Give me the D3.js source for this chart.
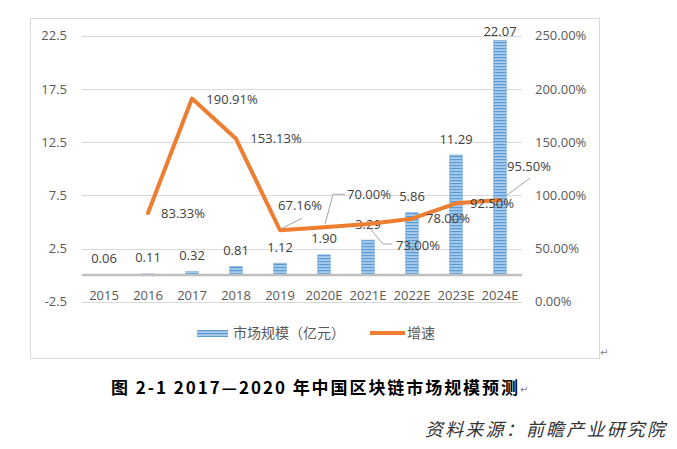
<!DOCTYPE html>
<html><head><meta charset="utf-8">
<script src="https://cdn.jsdelivr.net/npm/d3@7"></script>
<style>
html,body{margin:0;padding:0;background:#fff;}
svg{display:block;}
</style></head>
<body>
<script>
// ---- data ----
const categories = ["2015","2016","2017","2018","2019","2020E","2021E","2022E","2023E","2024E"];
const marketSize = [0.06, 0.11, 0.32, 0.81, 1.12, 1.90, 3.29, 5.86, 11.29, 22.07];
const growthRate = [null, 0.8333, 1.9091, 1.5313, 0.6716, 0.70, 0.73, 0.78, 0.925, 0.955];
const leftTicks = [-2.5, 2.5, 7.5, 12.5, 17.5, 22.5];
const rightTicks = [0, 0.5, 1.0, 1.5, 2.0, 2.5];
const legendLabels = ["市场规模（亿元）", "增速"];
const titleText = "图 2-1  2017—2020 年中国区块链市场规模预测";
const sourceText = "资料来源：前瞻产业研究院";

// label placement for growth labels (offsets from point, px)
const growthLabelOffsets = [null,[35,0],[40,1],[40,0],[20,-25],[45,-33],[50,21],[36,0],[36,0],[29,-34]];
const growthLeaders = {
  4: [[2,-2],[22,-12]],
  5: [[1,-3],[9,-33],[21,-33]],
  6: [[-1,1],[15,20],[24,20]],
  9: [[7,-5],[30,-22]]
};

const W = 677, H = 449;
const svg = d3.select("body").append("svg").attr("width", W).attr("height", H);

const defs = svg.append("defs");
const pat = defs.append("pattern").attr("id","stripes").attr("patternUnits","userSpaceOnUse")
  .attr("width", 6).attr("height", 3);
pat.append("rect").attr("width",6).attr("height",3).attr("fill","#a9cbec");
pat.append("rect").attr("width",6).attr("height",1.2).attr("fill","#5b9bd5");

// chart frame
svg.append("rect").attr("x",30.5).attr("y",18.5).attr("width",569).attr("height",340)
  .attr("fill","none").attr("stroke","#d9d9d9").attr("stroke-width",1);

const x = d3.scaleBand().domain(categories).range([82, 522]);
const yL = d3.scaleLinear().domain([-2.5, 22.5]).range([301.7, 35.7]);
const yR = d3.scaleLinear().domain([0, 2.5]).range([301.7, 35.7]);

const font = "'Open Sans', 'Noto Sans CJK SC', sans-serif";

// gridlines
svg.append("g").selectAll("line").data(leftTicks).join("line")
  .attr("x1", 82).attr("x2", 522)
  .attr("y1", d => Math.round(yL(d)) + 0.5).attr("y2", d => Math.round(yL(d)) + 0.5)
  .attr("stroke", "#d9d9d9").attr("stroke-width", 1);

// left axis
const gL = svg.append("g").attr("transform","translate(82,0)")
  .call(d3.axisLeft(yL).tickValues(leftTicks).tickSize(0).tickPadding(15).tickFormat(d => d.toFixed(1)));
gL.select(".domain").remove();
gL.selectAll("text").attr("fill","#595959").style("font-family",font).style("font-size","13px");

// right axis
const gR = svg.append("g").attr("transform","translate(522,0)")
  .call(d3.axisRight(yR).tickValues(rightTicks).tickSize(0).tickPadding(13).tickFormat(d => (d*100).toFixed(2) + "%"));
gR.select(".domain").remove();
gR.selectAll("text").attr("fill","#595959").style("font-family",font).style("font-size","13px");

// bars
const bw = 12.5;
svg.append("g").selectAll("rect").data(marketSize).join("rect")
  .attr("x", (d,i) => x(categories[i]) + x.bandwidth()/2 - bw/2)
  .attr("width", bw)
  .attr("y", d => yL(d))
  .attr("height", d => yL(0) - yL(d))
  .attr("fill", "url(#stripes)")
  .attr("stroke", "#6fa6da").attr("stroke-width", 0.6);

// zero line
svg.append("line").attr("x1",82).attr("x2",522).attr("y1",yL(0)).attr("y2",yL(0))
  .attr("stroke","#bfbfbf").attr("stroke-width",2.5);

// x axis
const gX = svg.append("g").attr("transform",`translate(0,${yL(0)})`)
  .call(d3.axisBottom(x).tickSize(0).tickPadding(20));
gX.select(".domain").remove();
gX.selectAll("text").attr("y", 20).attr("dy","0.35em").attr("fill","#595959")
  .style("font-family",font).style("font-size","13px");

// bar labels
svg.append("g").selectAll("text").data(marketSize).join("text")
  .attr("x", (d,i) => x(categories[i]) + x.bandwidth()/2)
  .attr("y", d => Math.max(yL(d) - 16, 31))
  .attr("dy","0.35em").attr("text-anchor","middle")
  .attr("fill","#404040").style("font-family",font).style("font-size","13px")
  .text(d => d.toFixed(2));

// growth line
const pts = growthRate.map((v,i) => ({v, i})).filter(d => d.v !== null);
const line = d3.line().x(d => x(categories[d.i]) + x.bandwidth()/2).y(d => yR(d.v)).curve(d3.curveLinear);
svg.append("path").datum(pts).attr("d", line).attr("fill","none")
  .attr("stroke","#ed7d31").attr("stroke-width",4).attr("stroke-linejoin","round").attr("stroke-linecap","round");

// leader lines
Object.entries(growthLeaders).forEach(([i, segs]) => {
  const px = x(categories[i]) + x.bandwidth()/2, py = yR(growthRate[i]);
  svg.append("polyline").attr("points", segs.map(s => [px + s[0], py + s[1]].join(",")).join(" "))
    .attr("fill","none").attr("stroke","#a6a6a6").attr("stroke-width",1);
});

// growth labels
svg.append("g").selectAll("text").data(pts).join("text")
  .attr("x", d => x(categories[d.i]) + x.bandwidth()/2 + growthLabelOffsets[d.i][0])
  .attr("y", d => yR(d.v) + growthLabelOffsets[d.i][1])
  .attr("dy","0.35em").attr("text-anchor","middle")
  .attr("fill","#404040").style("font-family",font).style("font-size","13px")
  .text(d => (d.v*100).toFixed(2) + "%");

// legend
const lg = svg.append("g");
lg.append("rect").attr("x",197).attr("y",330).attr("width",31).attr("height",7).attr("fill","url(#stripes)");
lg.append("text").attr("x",233).attr("y",333.5).attr("dy","0.35em").attr("fill","#595959")
  .style("font-family","'Noto Sans CJK SC', sans-serif").style("font-size","14px").text(legendLabels[0]);
lg.append("line").attr("x1",370).attr("x2",405).attr("y1",333).attr("y2",333)
  .attr("stroke","#ed7d31").attr("stroke-width",4);
lg.append("text").attr("x",407).attr("y",333.5).attr("dy","0.35em").attr("fill","#595959")
  .style("font-family","'Noto Sans CJK SC', sans-serif").style("font-size","14px").text(legendLabels[1]);

// paragraph marks
svg.append("text").attr("x",600).attr("y",356).attr("fill","#7f7f7f").style("font-size","10px")
  .style("font-family","'DejaVu Sans'").text("↵");

// title
svg.append("text").attr("x",111).attr("y",388).attr("dy","0.35em")
  .attr("textLength",407).attr("lengthAdjust","spacing")
  .attr("fill","#000").style("font-family","'Noto Sans CJK SC', sans-serif").style("font-weight","bold")
  .style("font-size","17px").text(titleText);
svg.append("text").attr("x",520).attr("y",393).attr("fill","#7f7f7f").style("font-size","10px")
  .style("font-family","'DejaVu Sans'").text("↵");

// source
svg.append("text").attr("x",425).attr("y",430).attr("dy","0.35em")
  .attr("textLength",240).attr("lengthAdjust","spacing")
  .attr("fill","#333").style("font-family","'Noto Sans CJK SC', sans-serif").style("font-style","italic")
  .style("font-size","18px").text(sourceText);
</script>
</body></html>
